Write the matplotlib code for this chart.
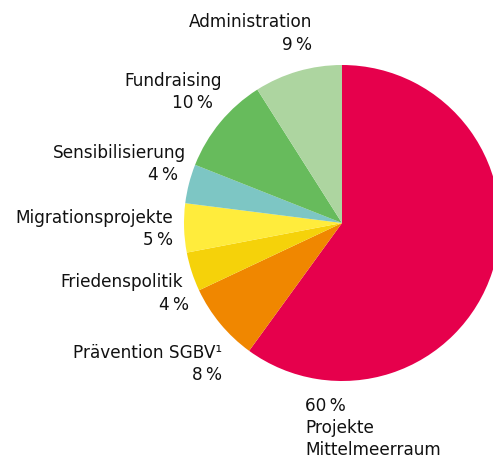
import matplotlib
matplotlib.use('Agg')
import matplotlib.pyplot as plt

plt.rcParams['font.family'] = ['DejaVu Sans']

# Anteile im Uhrzeigersinn ab 12 Uhr
categories = ['Projekte Mittelmeerraum', 'Prävention SGBV¹', 'Friedenspolitik',
              'Migrationsprojekte', 'Sensibilisierung', 'Fundraising', 'Administration']
shares = [60, 8, 4, 5, 4, 10, 9]
colors = ['#E6004C', '#F08700', '#F5D20A', '#FFEC3C', '#7DC6C4', '#67BB5C', '#ADD5A0']

W, H = 493, 459
fig = plt.figure(figsize=(W / 100, H / 100), dpi=100)
ax = fig.add_axes([0, 0, 1, 1])

# pie in pixel coords (y nach unten) -> counterclock=True sieht dann im Uhrzeigersinn aus
ax.pie(shares, colors=colors, startangle=-90, counterclock=True,
       center=(342, 223), radius=158, frame=True,
       wedgeprops=dict(linewidth=0))
ax.set_xlim(0, W)
ax.set_ylim(H, 0)
ax.set_aspect('equal')
ax.axis('off')

txt = dict(fontsize=12.2, color='#111111', va='center')

# Beschriftungen: (Name x, Name y, Prozent x, Prozent y) in Pixeln
label_pos = {
    'Administration': (312, 22, 312, 45),
    'Fundraising': (222, 81, 213, 103),
    'Sensibilisierung': (186, 153, 178, 175),
    'Migrationsprojekte': (173, 218, 173, 240),
    'Friedenspolitik': (183, 282, 189, 305),
    'Prävention SGBV¹': (222, 353, 222, 375),
}
for name, val in zip(categories, shares):
    if name in label_pos:
        x1, y1, x2, y2 = label_pos[name]
        ax.text(x1, y1, name, ha='right', **txt)
        ax.text(x2, y2, f'{val}\u2009%', ha='right', **txt)

ax.text(305, 406, f'{shares[0]}\u2009%', ha='left', **txt)
ax.text(305, 428, 'Projekte', ha='left', **txt)
ax.text(305, 450, 'Mittelmeerraum', ha='left', **txt)

fig.savefig('out.png', dpi=100)
